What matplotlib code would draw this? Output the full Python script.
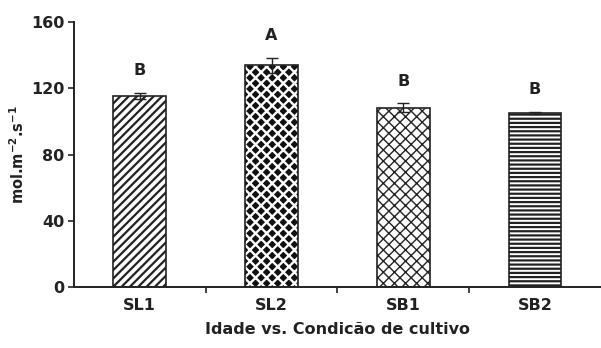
import matplotlib
matplotlib.use("Agg")
import matplotlib.pyplot as plt

categories = ["SL1", "SL2", "SB1", "SB2"]
values = [115.3, 134.0, 108.3, 105.3]
errors = [1.8, 4.5, 2.6, 0.6]
letters = ["B", "A", "B", "B"]
y_ticks = [0, 40, 80, 120, 160]

plt.rcParams['font.family'] = ['DejaVu Sans']
plt.rcParams['font.weight'] = 'bold'
plt.rcParams['mathtext.default'] = 'bf'

fig = plt.figure(figsize=(6.01, 3.48), dpi=100)
ax = fig.add_axes([0.123, 0.175, 0.877, 0.7615])
x = list(range(len(categories)))
w = 0.4
dark = '#222222'
fs = 11.5

# SL1: diagonal stripes
with plt.rc_context({'hatch.linewidth': 1.6}):
    ax.bar(x[0], values[0], width=w, facecolor='white', edgecolor=dark, linewidth=1.2, hatch='////', zorder=2)
# SL2: black diamonds (white crosshatch on black)
with plt.rc_context({'hatch.linewidth': 1.7}):
    ax.bar(x[1], values[1], width=w, facecolor='#111111', edgecolor='white', linewidth=0, hatch='xxx', zorder=2)
ax.bar(x[1], values[1], width=w, fill=False, edgecolor=dark, linewidth=1.2, zorder=3)
# SB1: brick-like crosshatch
with plt.rc_context({'hatch.linewidth': 1.0}):
    ax.bar(x[2], values[2], width=w, facecolor='white', edgecolor=dark, linewidth=1.2, hatch='xxx', zorder=2)
# SB2: horizontal lines
with plt.rc_context({'hatch.linewidth': 1.6}):
    ax.bar(x[3], values[3], width=w, facecolor='white', edgecolor=dark, linewidth=1.2, hatch='----', zorder=2)

ax.errorbar(x, values, yerr=errors, fmt='none', ecolor=dark, elinewidth=1.0, capsize=4, capthick=1.0, zorder=4)

for xi, v, e, t in zip(x, values, errors, letters):
    ax.text(xi, v + e + 9, t, ha='center', va='bottom', fontsize=fs, fontweight='bold', color='#222222')

ax.set_xlim(-0.5, 3.5)
ax.set_ylim(0, 160)
ax.set_yticks(y_ticks)
ax.set_yticklabels([str(t) for t in y_ticks], fontsize=fs, fontweight='bold', color='#222222')
ax.set_xticks([0.5, 1.5, 2.5])
ax.set_xticklabels([])
ax.set_xticks(x, minor=True)
ax.set_xticklabels(categories, minor=True, fontsize=fs, fontweight='bold', color='#222222')
ax.tick_params(axis='x', which='minor', length=0, pad=8)
ax.tick_params(axis='x', which='major', direction='out', length=4, width=1.2, color=dark)
ax.tick_params(axis='y', direction='out', length=4, width=1.2, color=dark, pad=3)

for s in ['top', 'right']:
    ax.spines[s].set_visible(False)
for s in ['left', 'bottom']:
    ax.spines[s].set_linewidth(1.4)
    ax.spines[s].set_color(dark)

ax.set_ylabel(r'mol.m$^{-2}$.s$^{-1}$', fontsize=10.5, fontweight='bold', color='#222222', labelpad=3)
ax.set_xlabel('Idade vs. Condicão de cultivo', fontsize=fs, fontweight='bold', color='#222222', labelpad=6)

fig.savefig('out.png', dpi=100)
